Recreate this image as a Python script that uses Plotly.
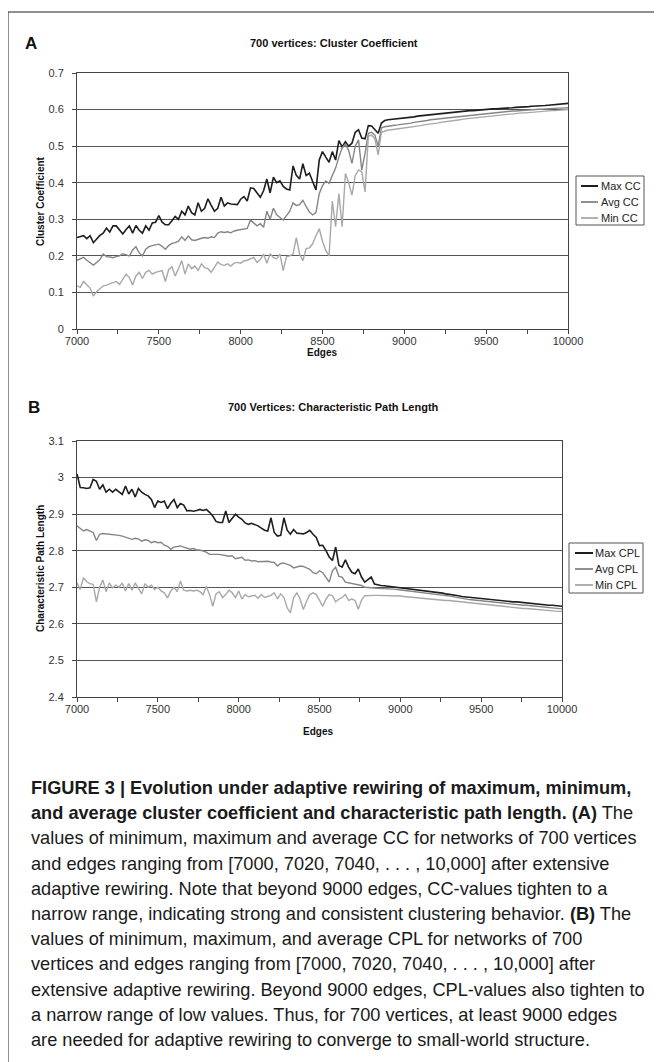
import plotly.graph_objects as go

# ---------------- data ----------------
edges = list(range(7000, 10001, 20))

max_cc = [0.250, 0.252, 0.255, 0.247, 0.255, 0.236, 0.246, 0.256, 0.262, 0.276,
          0.265, 0.282, 0.282, 0.272, 0.260, 0.272, 0.282, 0.262, 0.283, 0.270,
          0.262, 0.282, 0.270, 0.290, 0.292, 0.310, 0.292, 0.285, 0.285, 0.296,
          0.308, 0.300, 0.322, 0.312, 0.336, 0.318, 0.312, 0.345, 0.322, 0.330,
          0.356, 0.338, 0.322, 0.330, 0.360, 0.336, 0.345, 0.342, 0.340, 0.340,
          0.355, 0.362, 0.350, 0.386, 0.384, 0.372, 0.360, 0.378, 0.410, 0.372,
          0.415, 0.400, 0.405, 0.390, 0.383, 0.380, 0.446, 0.420, 0.410, 0.452,
          0.420, 0.426, 0.400, 0.380, 0.462, 0.485, 0.470, 0.456, 0.485, 0.462,
          0.515, 0.498, 0.512, 0.500, 0.508, 0.538, 0.545, 0.522, 0.520, 0.556,
          0.555, 0.545, 0.535, 0.563, 0.570, 0.572, 0.573, 0.574, 0.575, 0.576,
          0.576, 0.578, 0.579, 0.580, 0.582, 0.583, 0.584, 0.585, 0.586, 0.587,
          0.588, 0.590, 0.589, 0.591, 0.592, 0.593, 0.594, 0.595, 0.595, 0.596,
          0.597, 0.597, 0.598, 0.599, 0.600, 0.600, 0.601, 0.602, 0.602, 0.603,
          0.603, 0.604, 0.605, 0.605, 0.606, 0.606, 0.607, 0.608, 0.608, 0.609,
          0.609, 0.610, 0.611, 0.611, 0.612, 0.613, 0.613, 0.614, 0.615, 0.616,
          0.617]

avg_cc = [0.188, 0.192, 0.196, 0.188, 0.182, 0.175, 0.182, 0.190, 0.205, 0.198,
          0.197, 0.195, 0.198, 0.200, 0.206, 0.203, 0.200, 0.216, 0.225, 0.208,
          0.200, 0.218, 0.225, 0.228, 0.230, 0.232, 0.226, 0.218, 0.228, 0.234,
          0.236, 0.240, 0.252, 0.242, 0.254, 0.244, 0.242, 0.246, 0.248, 0.250,
          0.248, 0.252, 0.250, 0.262, 0.266, 0.264, 0.266, 0.263, 0.268, 0.270,
          0.272, 0.274, 0.275, 0.298, 0.290, 0.282, 0.288, 0.278, 0.322, 0.300,
          0.330, 0.312, 0.305, 0.298, 0.310, 0.322, 0.345, 0.338, 0.340, 0.352,
          0.335, 0.320, 0.312, 0.318, 0.370, 0.392, 0.405, 0.398, 0.420, 0.440,
          0.470, 0.495, 0.505, 0.488, 0.453, 0.500, 0.517, 0.435, 0.480, 0.535,
          0.538, 0.530, 0.500, 0.550, 0.553, 0.555, 0.556, 0.557, 0.558, 0.559,
          0.560, 0.562, 0.563, 0.565, 0.566, 0.568, 0.569, 0.570, 0.572, 0.573,
          0.574, 0.575, 0.576, 0.578, 0.579, 0.580, 0.581, 0.582, 0.583, 0.584,
          0.585, 0.586, 0.587, 0.588, 0.589, 0.590, 0.590, 0.591, 0.592, 0.593,
          0.593, 0.594, 0.595, 0.596, 0.596, 0.597, 0.598, 0.598, 0.599, 0.600,
          0.600, 0.601, 0.601, 0.602, 0.602, 0.603, 0.603, 0.604, 0.604, 0.605,
          0.605]

min_cc = [0.118, 0.114, 0.130, 0.122, 0.112, 0.090, 0.102, 0.110, 0.118, 0.120,
          0.124, 0.127, 0.130, 0.122, 0.137, 0.150, 0.140, 0.120, 0.145, 0.155,
          0.138, 0.155, 0.160, 0.150, 0.155, 0.158, 0.160, 0.130, 0.162, 0.170,
          0.145, 0.165, 0.187, 0.150, 0.178, 0.165, 0.172, 0.160, 0.178, 0.168,
          0.165, 0.155, 0.170, 0.183, 0.176, 0.174, 0.178, 0.172, 0.180, 0.182,
          0.180, 0.186, 0.188, 0.192, 0.196, 0.182, 0.190, 0.205, 0.180, 0.206,
          0.195, 0.192, 0.205, 0.160, 0.198, 0.200, 0.205, 0.250, 0.205, 0.187,
          0.220, 0.222, 0.233, 0.255, 0.274, 0.240, 0.215, 0.200, 0.350, 0.280,
          0.370, 0.280, 0.425, 0.400, 0.366, 0.420, 0.435, 0.430, 0.375, 0.527,
          0.530, 0.520, 0.476, 0.538, 0.542, 0.544, 0.545, 0.546, 0.547, 0.548,
          0.550, 0.551, 0.552, 0.554, 0.555, 0.556, 0.558, 0.559, 0.560, 0.562,
          0.563, 0.565, 0.566, 0.567, 0.569, 0.570, 0.571, 0.572, 0.574, 0.575,
          0.576, 0.577, 0.578, 0.579, 0.580, 0.581, 0.582, 0.583, 0.584, 0.585,
          0.586, 0.587, 0.588, 0.588, 0.589, 0.590, 0.591, 0.591, 0.592, 0.593,
          0.593, 0.594, 0.595, 0.595, 0.596, 0.597, 0.597, 0.598, 0.598, 0.599,
          0.600]

max_cpl = [3.010, 2.973, 2.972, 2.970, 2.972, 2.995, 2.990, 2.968, 2.980, 2.960,
           2.968, 2.960, 2.968, 2.962, 2.954, 2.977, 2.955, 2.968, 2.947, 2.970,
           2.960, 2.954, 2.950, 2.940, 2.918, 2.936, 2.932, 2.936, 2.915, 2.930,
           2.940, 2.918, 2.929, 2.925, 2.909, 2.910, 2.908, 2.910, 2.913, 2.910,
           2.913, 2.905, 2.895, 2.880, 2.877, 2.877, 2.909, 2.877, 2.890, 2.900,
           2.892, 2.886, 2.876, 2.872, 2.875, 2.872, 2.868, 2.862, 2.856, 2.854,
           2.890, 2.850, 2.840, 2.842, 2.890, 2.856, 2.845, 2.858, 2.848, 2.847,
           2.846, 2.850, 2.856, 2.845, 2.836, 2.814, 2.815, 2.800, 2.783, 2.773,
           2.810, 2.760, 2.755, 2.775, 2.755, 2.741, 2.737, 2.750, 2.728, 2.714,
           2.720, 2.728, 2.709, 2.706, 2.705, 2.704, 2.703, 2.702, 2.701, 2.700,
           2.699, 2.698, 2.697, 2.695, 2.694, 2.693, 2.692, 2.691, 2.690, 2.689,
           2.688, 2.687, 2.686, 2.684, 2.682, 2.681, 2.680, 2.679, 2.677, 2.675,
           2.674, 2.673, 2.672, 2.670, 2.669, 2.668, 2.667, 2.667, 2.666, 2.665,
           2.664, 2.664, 2.663, 2.662, 2.661, 2.660, 2.660, 2.659, 2.658, 2.657,
           2.657, 2.656, 2.655, 2.654, 2.653, 2.652, 2.651, 2.651, 2.650, 2.649,
           2.648]

avg_cpl = [2.868, 2.862, 2.854, 2.858, 2.855, 2.850, 2.828, 2.845, 2.847, 2.846,
           2.845, 2.846, 2.843, 2.842, 2.840, 2.837, 2.836, 2.831, 2.834, 2.832,
           2.826, 2.830, 2.828, 2.822, 2.825, 2.822, 2.823, 2.815, 2.812, 2.804,
           2.810, 2.812, 2.813, 2.810, 2.806, 2.804, 2.806, 2.802, 2.802, 2.800,
           2.796, 2.790, 2.791, 2.790, 2.790, 2.788, 2.787, 2.785, 2.786, 2.778,
           2.780, 2.782, 2.774, 2.775, 2.772, 2.773, 2.770, 2.771, 2.770, 2.771,
           2.769, 2.768, 2.758, 2.765, 2.766, 2.762, 2.760, 2.753, 2.756, 2.758,
           2.757, 2.752, 2.749, 2.740, 2.737, 2.745, 2.740, 2.727, 2.714, 2.745,
           2.755, 2.730, 2.728, 2.714, 2.712, 2.710, 2.708, 2.708, 2.705, 2.700,
           2.700, 2.699, 2.698, 2.697, 2.697, 2.696, 2.696, 2.695, 2.695, 2.694,
           2.693, 2.692, 2.691, 2.690, 2.689, 2.688, 2.687, 2.686, 2.684, 2.683,
           2.682, 2.681, 2.679, 2.678, 2.677, 2.676, 2.675, 2.673, 2.671, 2.670,
           2.668, 2.667, 2.666, 2.665, 2.664, 2.663, 2.662, 2.661, 2.661, 2.660,
           2.659, 2.658, 2.657, 2.656, 2.655, 2.654, 2.653, 2.652, 2.651, 2.651,
           2.650, 2.649, 2.648, 2.647, 2.646, 2.645, 2.644, 2.643, 2.642, 2.641,
           2.641]

min_cpl = [2.712, 2.694, 2.726, 2.715, 2.710, 2.708, 2.660, 2.700, 2.720, 2.688,
           2.712, 2.698, 2.706, 2.700, 2.712, 2.690, 2.710, 2.692, 2.712, 2.696,
           2.682, 2.710, 2.700, 2.706, 2.694, 2.700, 2.690, 2.685, 2.671, 2.690,
           2.700, 2.688, 2.717, 2.692, 2.690, 2.692, 2.690, 2.692, 2.688, 2.680,
           2.703, 2.680, 2.648, 2.682, 2.688, 2.672, 2.680, 2.692, 2.685, 2.672,
           2.690, 2.668, 2.680, 2.674, 2.676, 2.678, 2.670, 2.680, 2.672, 2.675,
           2.678, 2.685, 2.668, 2.682, 2.672, 2.644, 2.630, 2.672, 2.685, 2.668,
           2.639, 2.662, 2.680, 2.685, 2.680, 2.664, 2.648, 2.668, 2.680, 2.677,
           2.660, 2.668, 2.672, 2.680, 2.664, 2.668, 2.664, 2.640, 2.665, 2.677,
           2.678, 2.678, 2.678, 2.678, 2.678, 2.678, 2.678, 2.678, 2.677, 2.677,
           2.676, 2.675, 2.674, 2.673, 2.672, 2.671, 2.670, 2.670, 2.669, 2.668,
           2.667, 2.666, 2.666, 2.665, 2.664, 2.664, 2.663, 2.662, 2.661, 2.660,
           2.659, 2.658, 2.657, 2.656, 2.655, 2.654, 2.653, 2.652, 2.651, 2.650,
           2.649, 2.648, 2.647, 2.646, 2.646, 2.645, 2.644, 2.643, 2.642, 2.642,
           2.641, 2.640, 2.639, 2.638, 2.638, 2.637, 2.636, 2.635, 2.635, 2.634,
           2.634]

x_tick_vals = [7000, 7500, 8000, 8500, 9000, 9500, 10000]
x_tick_text = ["7000", "7500", "8000", "8500", "9000", "9500", "10000"]
cc_tick_vals = [0, 0.1, 0.2, 0.3, 0.4, 0.5, 0.6, 0.7]
cc_tick_text = ["0", "0.1", "0.2", "0.3", "0.4", "0.5", "0.6", "0.7"]
cpl_tick_vals = [2.4, 2.5, 2.6, 2.7, 2.8, 2.9, 3.0, 3.1]
cpl_tick_text = ["2.4", "2.5", "2.6", "2.7", "2.8", "2.9", "3", "3.1"]

cc_names = ["Max CC", "Avg CC", "Min CC"]
cpl_names = ["Max CPL", "Avg CPL", "Min CPL"]

caption_lines = [
    "<b>FIGURE 3 | Evolution under adaptive rewiring of maximum, minimum,</b>",
    "<b>and average cluster coefficient and characteristic path length. (A)</b> The",
    "values of minimum, maximum and average CC for networks of 700 vertices",
    "and edges ranging from [7000, 7020, 7040, . . . , 10,000] after extensive",
    "adaptive rewiring. Note that beyond 9000 edges, CC-values tighten to a",
    "narrow range, indicating strong and consistent clustering behavior. <b>(B)</b> The",
    "values of minimum, maximum, and average CPL for networks of 700",
    "vertices and edges ranging from [7000, 7020, 7040, . . . , 10,000] after",
    "extensive adaptive rewiring. Beyond 9000 edges, CPL-values also tighten to",
    "a narrow range of low values. Thus, for 700 vertices, at least 9000 edges",
    "are needed for adaptive rewiring to converge to small-world structure.",
]

# ---------------- figure ----------------
W, H = 662, 1062
OFF = 8  # page body margin offset
def px(x):
    return (x - OFF) / W
def py(y):
    return 1 - (y - OFF) / H

COLORS = ["#1e1e1e", "#858585", "#a8a8a8"]
WIDTHS = [1.6, 1.4, 1.4]
FONT = "Liberation Sans, Arial, sans-serif"

fig = go.Figure()
for name, ys, c, w in zip(cc_names, [max_cc, avg_cc, min_cc], COLORS, WIDTHS):
    fig.add_trace(go.Scatter(x=edges, y=ys, name=name, mode="lines",
                             line=dict(color=c, width=w), xaxis="x", yaxis="y"))
for name, ys, c, w in zip(cpl_names, [max_cpl, avg_cpl, min_cpl], COLORS, WIDTHS):
    fig.add_trace(go.Scatter(x=edges, y=ys, name=name, mode="lines",
                             line=dict(color=c, width=w), xaxis="x2", yaxis="y2"))

axis_common = dict(showline=True, linecolor="#444", linewidth=1, mirror=True,
                   ticks="outside", ticklen=4, tickcolor="#444", automargin=False,
                   tickfont=dict(family=FONT, size=11, color="#333"), zeroline=False)

xa = dict(axis_common, range=[7000, 10000], tickvals=x_tick_vals, ticktext=x_tick_text,
          showgrid=False, ticklabelstandoff=-2,
          minor=dict(dtick=250, tick0=7000, ticks="outside", ticklen=4,
                     tickcolor="#444", showgrid=False))
ya_grid = dict(showgrid=True, gridcolor="#555", gridwidth=1, ticklabelstandoff=6)

fig.update_layout(
    width=W, height=H, margin=dict(l=0, r=0, t=0, b=0, autoexpand=False),
    paper_bgcolor="white", plot_bgcolor="white", showlegend=False,
    xaxis=dict(xa, domain=[px(77), px(568)], anchor="y"),
    yaxis=dict(axis_common, **ya_grid, range=[0, 0.7], tickvals=cc_tick_vals,
               ticktext=cc_tick_text, domain=[py(329), py(73)], anchor="x"),
    xaxis2=dict(xa, domain=[px(77), px(562)], anchor="y2"),
    yaxis2=dict(axis_common, **ya_grid, range=[2.4, 3.1], tickvals=cpl_tick_vals,
                ticktext=cpl_tick_text, domain=[py(697), py(441)], anchor="x2"),
)

ann = []
shapes = []
def add_text(text, x, y, size, bold=False, family=FONT, xanchor="center", angle=0, color="#111"):
    ann.append(dict(text=("<b>%s</b>" % text) if bold else text, x=px(x), y=py(y),
                    xref="paper", yref="paper", showarrow=False, xanchor=xanchor,
                    yanchor="middle", textangle=angle,
                    font=dict(family=family, size=size, color=color)))

add_text("A", 31, 43, 17, bold=True)
add_text("B", 34, 408, 17, bold=True)
add_text("700 vertices: Cluster Coefficient", 334, 43, 11, bold=True)
add_text("700 Vertices: Characteristic Path Length", 333, 407, 11, bold=True)
add_text("Edges", 322, 353, 10, bold=True)
add_text("Edges", 318, 731, 10, bold=True)
add_text("Cluster Coefficient", 40, 201, 10, bold=True, angle=-90)
add_text("Characteristic Path Length", 40, 569, 10, bold=True, angle=-90)

# legends (box, line samples, labels)
def add_legend(names, x0, x1, y0, y1, rows, lx0, lx1, tx):
    shapes.append(dict(type="rect", xref="paper", yref="paper", x0=px(x0), x1=px(x1),
                       y0=py(y1), y1=py(y0), line=dict(color="#555", width=1),
                       fillcolor="white", layer="above"))
    for name, ry, c, w in zip(names, rows, COLORS, WIDTHS):
        shapes.append(dict(type="line", xref="paper", yref="paper", x0=px(lx0), x1=px(lx1),
                           y0=py(ry), y1=py(ry), line=dict(color=c, width=w + 0.4),
                           layer="above"))
        add_text(name, tx, ry, 11, xanchor="left", color="#222")

add_legend(cc_names, 576, 644, 176, 225, [186, 202, 218], 581, 598, 599)
add_legend(cpl_names, 569, 643, 543, 593, [553, 569, 585], 575, 593, 593)

for k, line in enumerate(caption_lines):
    ann.append(dict(text=line, x=px(29), y=py(788 + 25.2 * k), xref="paper", yref="paper",
                    showarrow=False, xanchor="left", yanchor="middle",
                    font=dict(family=FONT, size=18.2, color="#1a1a1a")))

# figure frame (top rule and left rule)
shapes.append(dict(type="line", xref="paper", yref="paper", x0=px(8), x1=1, y0=py(12), y1=py(12),
                   line=dict(color="#222", width=1)))
shapes.append(dict(type="line", xref="paper", yref="paper", x0=px(8), x1=px(8), y0=py(12), y1=0,
                   line=dict(color="#222", width=1)))

fig.update_layout(annotations=ann, shapes=shapes)

fig.write_html("out.html")
